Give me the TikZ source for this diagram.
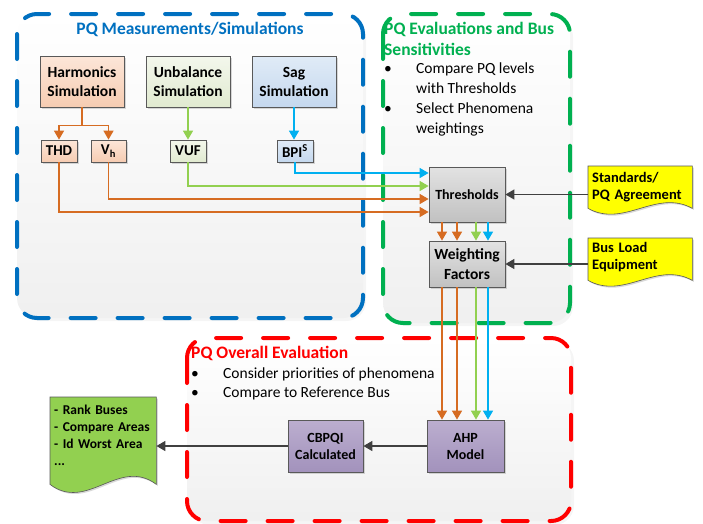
\documentclass[tikz,border=0pt]{standalone}
\usepackage{fontspec}
\setmainfont{Carlito}
\usetikzlibrary{arrows.meta,shadows,calc,backgrounds}
\definecolor{pqblue}{RGB}{0,112,192}
\definecolor{pqgreen}{RGB}{0,176,80}
\definecolor{pqred}{RGB}{255,0,0}
\definecolor{harmc}{RGB}{214,108,34}
\definecolor{unbc}{RGB}{146,208,80}
\definecolor{sagc}{RGB}{0,176,240}
\definecolor{arrc}{RGB}{64,64,64}
\definecolor{edgec}{RGB}{89,89,89}
\definecolor{harmtop}{RGB}{252,230,216}
\definecolor{harmbot}{RGB}{246,204,178}
\definecolor{unbtop}{RGB}{243,247,236}
\definecolor{unbbot}{RGB}{225,234,208}
\definecolor{sagtop}{RGB}{224,235,247}
\definecolor{sagbot}{RGB}{197,216,238}
\definecolor{graytop}{RGB}{226,226,226}
\definecolor{graybot}{RGB}{193,193,193}
\definecolor{ahptop}{RGB}{188,174,207}
\definecolor{ahpbot}{RGB}{162,146,188}
\definecolor{docyellow}{RGB}{255,255,0}
\definecolor{docgreen}{RGB}{146,208,80}
\newcommand{\fs}[2]{\fontsize{#1}{#2}\selectfont}
\newcommand{\docwave}[4]{%
  \draw [docline, fill=#2] (#1.north west) -- (#1.north east) -- ($(#1.south east)+(0,#3)$)
    .. controls ($(#1.south)+(16,#3-#4)$) and ($(#1.south)+(-16,#3+#4)$) .. ($(#1.south west)+(0,#3)$) -- cycle;}

\begin{document}
\begin{tikzpicture}[x=1pt, y=-1pt,
    shad/.style={drop shadow={shadow xshift=1.5pt, shadow yshift=-1.5pt, opacity=.3}},
    box/.style={draw=edgec, line width=0.8pt, align=center, inner sep=1pt, shad},
    simbox/.style={box, minimum width=84pt, minimum height=51pt, font=\fs{15.5}{19}\bfseries},
    valbox/.style={box, minimum width=36pt, minimum height=22pt, font=\fs{15}{18}\bfseries},
    harmfill/.style={top color=harmtop, bottom color=harmbot},
    unbfill/.style={top color=unbtop, bottom color=unbbot},
    sagfill/.style={top color=sagtop, bottom color=sagbot},
    grayfill/.style={top color=graytop, bottom color=graybot},
    ahpfill/.style={top color=ahptop, bottom color=ahpbot},
    docbox/.style={anchor=north west, inner xsep=4pt, inner ysep=0pt, text width=96pt, align=left, font=\fs{14.5}{17}\bfseries},
    docline/.style={draw=edgec, line width=0.6pt, shad},
    frame/.style={line width=4pt, dash pattern=on 25pt off 22pt, line cap=round, rounded corners=20pt},
    title/.style={inner sep=0pt, font=\fs{17.5}{21}\bfseries},
    bullets/.style={anchor=north west, inner sep=0pt, font=\fs{15.5}{19.7}},
    tip/.style={-{Triangle[length=9pt, width=10pt]}},
    harm/.style={draw=harmc, line width=1.5pt, tip},
    unb/.style={draw=unbc, line width=1.5pt, tip},
    sag/.style={draw=sagc, line width=1.5pt, tip},
    gray/.style={draw=arrc, line width=1.5pt, tip}]
  \useasboundingbox (0,0) rectangle (703,523);

  \fill [black!4, rounded corners=20pt] (20,17) rectangle (366,321);
  \shade [top color=white, bottom color=black!6, rounded corners=20pt] (17,14) rectangle (363,318);
  \draw [frame, pqblue] (17,14) rectangle (363,318);
  \fill [black!4, rounded corners=20pt] (386,17) rectangle (573,326);
  \shade [top color=white, bottom color=black!6, rounded corners=20pt] (383,14) rectangle (570,323);
  \draw [frame, pqgreen] (383,14) rectangle (570,323);
  \fill [black!4, rounded corners=20pt] (190,341) rectangle (574,525);
  \shade [top color=white, bottom color=black!6, rounded corners=20pt] (187,338) rectangle (571,521);
  \draw [frame, pqred] (187,338) rectangle (571,521);

  \node [title, text=pqblue] (MT) at (190,29) {PQ Measurements/Simulations};
  \node [title, text=pqgreen, anchor=west, align=left] (ET) at (384,38.5) {PQ Evaluations and Bus\\Sensitivities};
  \node [bullets] (EB) at (384,60) {\begin{tabular}{@{}p{32pt}@{}l@{}}
      \textbullet & Compare PQ levels\\ & with Thresholds\\
      \textbullet & Select Phenomena\\ & weightings\end{tabular}};
  \node [title, text=pqred, anchor=west] (OT) at (191,353) {PQ Overall Evaluation};
  \node [bullets] (OB) at (191,364) {\begin{tabular}{@{}p{32pt}@{}l@{}}
      \textbullet & Consider priorities of phenomena\\
      \textbullet & Compare to Reference Bus\end{tabular}};

  \node [simbox, harmfill] (HS) at (82,81.5) {Harmonics\\Simulation};
  \node [simbox, unbfill] (US) at (188,81.5) {Unbalance\\Simulation};
  \node [simbox, sagfill] (SS) at (294,81.5) {Sag\\Simulation};
  \node [valbox, harmfill] (THD) at (59,151) {THD};
  \node [valbox, harmfill, minimum width=35pt] (VH) at (108.5,151) {V\textsubscript{h}};
  \node [valbox, unbfill] (VUF) at (188,151) {VUF};
  \node [valbox, sagfill] (BPI) at (295,151) {BPI\textsuperscript{S}};
  \node [box, grayfill, minimum width=76pt, minimum height=55pt, font=\fs{14}{17}\bfseries] (TH) at (467,194.5) {Thresholds};
  \node [box, grayfill, minimum width=76pt, minimum height=46pt, font=\fs{15.5}{19.5}\bfseries] (WF) at (467,264) {Weighting\\Factors};
  \node [box, ahpfill, minimum width=77pt, minimum height=52pt, font=\fs{14}{17}\bfseries] (AHP) at (465.5,446) {AHP\\Model};
  \node [box, ahpfill, minimum width=75pt, minimum height=52pt, font=\fs{14}{17}\bfseries] (CB) at (325.5,446) {CBPQI\\Calculated};
  \node [docbox, minimum height=42pt] (STD) at (588,166) {Standards/\\PQ Agreement};
  \node [docbox, minimum height=37pt] (BL) at (588,238) {Bus Load\\Equipment};
  \node [docbox, text width=98pt, minimum height=77pt, font=\fs{13.5}{17}\bfseries] (GD) at (50,397) {- Rank Buses\\- Compare Areas\\- Id Worst Area\\...};
  \begin{scope}[on background layer]
    \docwave{STD}{docyellow}{0}{20}
    \docwave{BL}{docyellow}{5}{20}
    \docwave{GD}{docgreen}{10}{28}
  \end{scope}

  \draw [harm] (HS.south) -- ++(0,18) -| (THD.north);
  \draw [harm] (HS.south) -- ++(0,18) -| (VH.north);
  \draw [unb] (US) -- (VUF);
  \draw [sag] (SS.south) -- (SS.south |- BPI.north);
  \draw [sag] (BPI.south) |- ([yshift=21.5pt]TH.west);
  \draw [unb] (VUF.south) |- ([yshift=8.5pt]TH.west);
  \draw [harm] (VH.south) |- ([yshift=-4.5pt]TH.west);
  \draw [harm] (THD.south) |- ([yshift=-17.5pt]TH.west);
  \draw [harm] ([xshift=-25pt]TH.south) -- ([xshift=-25pt]WF.north);
  \draw [harm] ([xshift=-10pt]TH.south) -- ([xshift=-10pt]WF.north);
  \draw [unb] ([xshift=9pt]TH.south) -- ([xshift=9pt]WF.north);
  \draw [sag] ([xshift=21pt]TH.south) -- ([xshift=21pt]WF.north);
  \draw [harm] ([xshift=-25pt]WF.south) -- ([xshift=-25pt]WF.south |- AHP.north);
  \draw [harm] ([xshift=-10pt]WF.south) -- ([xshift=-10pt]WF.south |- AHP.north);
  \draw [unb] ([xshift=9pt]WF.south) -- ([xshift=9pt]WF.south |- AHP.north);
  \draw [sag] ([xshift=21pt]WF.south) -- ([xshift=21pt]WF.south |- AHP.north);
  \draw [gray] (STD.west |- TH.east) -- (TH.east);
  \draw [gray] (BL.west |- WF.east) -- (WF.east);
  \draw [gray] (AHP) -- (CB);
  \draw [gray] (CB.west) -- (GD.east |- CB.west);
\end{tikzpicture}
\end{document}
